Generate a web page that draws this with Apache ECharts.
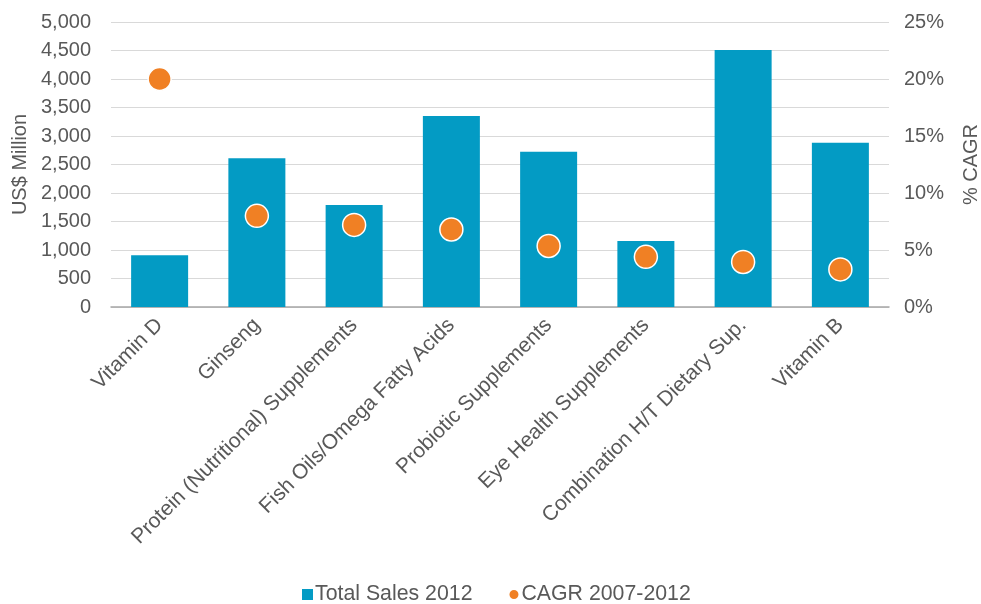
<!DOCTYPE html>
<html>
<head>
<meta charset="utf-8">
<script src="https://cdn.jsdelivr.net/npm/echarts@6/dist/echarts.min.js"></script>
<style>
  html, body { margin: 0; padding: 0; background: #fff; }
  #chart { width: 981px; height: 604px; }
</style>
</head>
<body>
<div id="chart"></div>
<script>
// Supplement categories and their 2012 sales / 2007-2012 growth
const categories = [
  'Vitamin D',
  'Ginseng',
  'Protein (Nutritional) Supplements',
  'Fish Oils/Omega Fatty Acids',
  'Probiotic Supplements',
  'Eye Health Supplements',
  'Combination H/T Dietary Sup.',
  'Vitamin B'
];
const totalSales2012 = [910, 2610, 1790, 3350, 2725, 1160, 4510, 2880];   // US$ million
const cagr2007to2012 = [20.0, 8.0, 7.2, 6.8, 5.35, 4.4, 3.95, 3.3];         // percent

const textColor = '#595959';
const fontFamily = '"Liberation Sans", Arial, sans-serif';
const fs = 20;

const chart = echarts.init(document.getElementById('chart'));
chart.setOption({
  animation: false,
  textStyle: { fontFamily: fontFamily, color: textColor },
  grid: { left: 111, right: 92, top: 22, bottom: 297, containLabel: false, outerBoundsMode: 'none' },
  legend: {
    top: 579,
    left: 297,
    itemGap: 35,
    itemWidth: 11,
    itemHeight: 11,
    textStyle: { fontSize: 21.3, color: textColor, fontFamily: fontFamily, padding: [0, 0, 0, -3] },
    data: [
      { name: 'Total Sales 2012', icon: 'rect' },
      { name: 'CAGR 2007-2012', icon: 'circle' }
    ]
  },
  xAxis: {
    type: 'category',
    data: categories,
    axisTick: { show: false },
    axisLine: { lineStyle: { color: '#a6a6a6', width: 1.5 } },
    axisLabel: {
      rotate: 45,
      interval: 0,
      margin: 15,
      fontSize: 21,
      color: textColor,
      fontFamily: fontFamily
    }
  },
  yAxis: [
    {
      type: 'value',
      min: 0,
      max: 5000,
      interval: 500,
      name: 'US$ Million',
      nameLocation: 'middle',
      nameRotate: 90,
      nameGap: 80,
      nameTextStyle: { fontSize: fs, color: textColor, fontFamily: fontFamily },
      axisLine: { show: false },
      axisTick: { show: false },
      axisLabel: {
        fontSize: fs,
        color: textColor,
        fontFamily: fontFamily,
        margin: 20,
        formatter: v => v.toLocaleString('en-US')
      },
      splitLine: { lineStyle: { color: '#d9d9d9', width: 1.2 } }
    },
    {
      type: 'value',
      min: 0,
      max: 25,
      interval: 5,
      name: '% CAGR',
      nameLocation: 'middle',
      nameRotate: 90,
      nameGap: 72,
      nameTextStyle: { fontSize: fs, color: textColor, fontFamily: fontFamily },
      axisLine: { show: false },
      axisTick: { show: false },
      splitLine: { show: false },
      axisLabel: {
        fontSize: fs,
        color: textColor,
        fontFamily: fontFamily,
        margin: 15,
        formatter: v => v + '%'
      }
    }
  ],
  series: [
    {
      name: 'Total Sales 2012',
      type: 'bar',
      data: totalSales2012,
      barWidth: 57,
      itemStyle: { color: '#039bc4' }
    },
    {
      name: 'CAGR 2007-2012',
      type: 'scatter',
      yAxisIndex: 1,
      data: cagr2007to2012,
      symbol: 'circle',
      symbolSize: 23,
      z: 5,
      itemStyle: { color: '#f08024', opacity: 1, borderColor: '#ffffff', borderWidth: 1.5 }
    }
  ]
});
</script>
</body>
</html>
